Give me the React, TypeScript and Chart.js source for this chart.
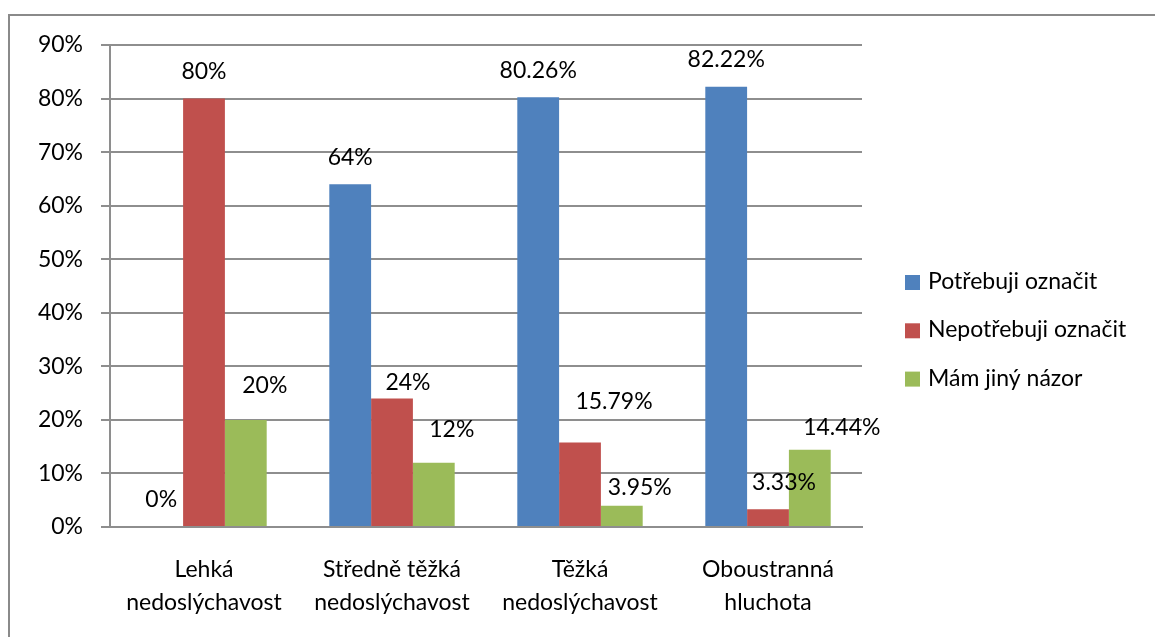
import React, { useEffect, useRef } from 'react';
import { Chart, registerables } from 'chart.js';

Chart.register(...registerables);

// ---------- data ----------
const categories: string[][] = [
  ['Lehká', 'nedoslýchavost'],
  ['Středně těžká', 'nedoslýchavost'],
  ['Těžká', 'nedoslýchavost'],
  ['Oboustranná', 'hluchota'],
];
const seriesNames = ['Potřebuji označit', 'Nepotřebuji označit', 'Mám jiný názor'];
const potrebujiOznacit = [0, 64, 80.26, 82.22];
const nepotrebujiOznacit = [80, 24, 15.79, 3.33];
const mamJinyNazor = [20, 12, 3.95, 14.44];
const yMin = 0;
const yMax = 90;
const yStep = 10;

// ---------- styles ----------
const seriesColors = ['#4F81BD', '#C0504D', '#9BBB59'];
const FONT = 'Lato, "Open Sans", sans-serif';
const FONT_SIZE = 23;
const GRID = '#8e8e8e';
const FRAME = '#8a8a8a';
// hand-moved data label nudges in px [dx, dy] (per series, per category)
const labelNudges: number[][][] = [
  [[-1, 0], [0, 0], [0, 0], [0, 0]],
  [[0, 0], [16, 11], [34, -14], [16, 0]],
  [[19, -7], [18, -6], [18, 9], [32, 5]],
];
const LABEL_GAP = 27;

const fmt = (v: number) => `${Number(v.toFixed(2))}%`;

const chartFrame = {
  id: 'chartFrame',
  beforeDraw(chart: any) {
    const ctx = chart.ctx;
    ctx.save();
    ctx.fillStyle = '#fff';
    ctx.fillRect(0, 0, chart.width, chart.height);
    ctx.restore();
  },
  afterDraw(chart: any) {
    const ctx = chart.ctx;
    ctx.save();
    // keep the outer area clean, then draw the open frame (top + left edges)
    ctx.fillStyle = '#fff';
    ctx.fillRect(chart.width - 20, 0, 20, 60);
    ctx.strokeStyle = FRAME;
    ctx.lineWidth = 2;
    ctx.beginPath();
    ctx.moveTo(9, chart.height);
    ctx.lineTo(9, 15);
    ctx.lineTo(chart.width + 5, 15);
    ctx.stroke();
    ctx.restore();
  },
};

const valueLabels = {
  id: 'valueLabels',
  afterDatasetsDraw(chart: any) {
    const ctx = chart.ctx;
    ctx.save();
    ctx.font = `${FONT_SIZE}px ${FONT}`;
    ctx.fillStyle = '#000';
    ctx.textAlign = 'center';
    ctx.textBaseline = 'middle';
    chart.data.datasets.forEach((ds: any, di: number) => {
      const meta = chart.getDatasetMeta(di);
      meta.data.forEach((el: any, i: number) => {
        const [dx, dy] = labelNudges[di][i];
        ctx.fillText(fmt(ds.data[i]), el.x + dx, el.y - LABEL_GAP + dy);
      });
    });
    ctx.restore();
  },
};

const sideLegend = {
  id: 'sideLegend',
  afterDraw(chart: any) {
    const ctx = chart.ctx;
    const area = chart.chartArea;
    const x0 = area.right + 43;
    const yFirst = area.top + 237.5;
    const rowGap = 48.3;
    const box = 15;
    ctx.save();
    ctx.font = `${FONT_SIZE}px ${FONT}`;
    ctx.textAlign = 'left';
    ctx.textBaseline = 'middle';
    chart.data.datasets.forEach((ds: any, i: number) => {
      const cy = yFirst + i * rowGap;
      ctx.fillStyle = ds.backgroundColor;
      ctx.fillRect(x0, cy - box / 2, box, box);
      ctx.fillStyle = '#000';
      ctx.fillText(ds.label, x0 + 23, cy - 1);
    });
    ctx.restore();
  },
};

export default function App() {
  const ref = useRef<HTMLCanvasElement>(null);

  useEffect(() => {
    if (!ref.current) return;
    Chart.defaults.font.family = FONT;
    Chart.defaults.font.size = FONT_SIZE;
    Chart.defaults.color = '#000';
    const values = [potrebujiOznacit, nepotrebujiOznacit, mamJinyNazor];
    const chart = new Chart(ref.current, {
      type: 'bar',
      data: {
        labels: categories,
        datasets: values.map((d, i) => ({
          label: seriesNames[i],
          data: d,
          backgroundColor: seriesColors[i],
          borderWidth: 0,
          categoryPercentage: 0.667,
          barPercentage: 1,
        })),
      },
      options: {
        responsive: false,
        animation: false,
        layout: { padding: { left: 10, top: 45, right: 293, bottom: 0 } },
        plugins: {
          legend: { display: false },
          tooltip: { enabled: false },
        },
        scales: {
          x: {
            offset: true,
            grid: { display: false, drawTicks: false },
            border: { display: true, color: GRID, width: 2 },
            ticks: {
              autoSkip: false,
              maxRotation: 0,
              minRotation: 0,
              padding: 26,
              font: { size: FONT_SIZE, lineHeight: 1.44 },
              color: '#000',
            },
            afterFit: (s: any) => {
              s.height = 110;
            },
          },
          y: {
            min: yMin,
            max: yMax,
            ticks: {
              stepSize: yStep,
              padding: 18,
              color: '#000',
              callback: (v: any) => `${v}%`,
            },
            grid: { color: GRID, lineWidth: 2, tickLength: 9, drawTicks: true },
            border: { display: true, color: GRID, width: 2 },
            afterFit: (s: any) => {
              s.width = 100;
            },
          },
        },
      },
      plugins: [chartFrame, valueLabels, sideLegend],
    } as any);
    return () => chart.destroy();
  }, []);

  return (
    <div
      style={{
        position: 'fixed',
        left: 0,
        top: 0,
        width: 1155,
        height: 637,
        overflow: 'hidden',
        background: '#fff',
      }}
    >
      <canvas ref={ref} width={1155} height={637} style={{ display: 'block' }} />
    </div>
  );
}
